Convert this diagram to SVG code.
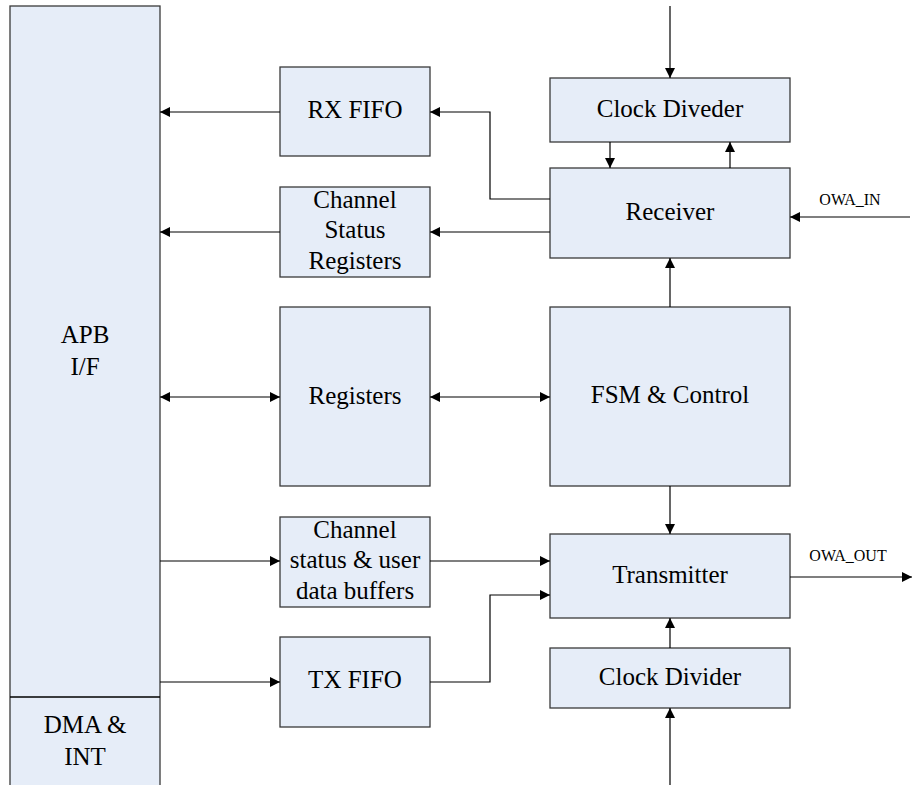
<svg xmlns="http://www.w3.org/2000/svg" width="912" height="785" viewBox="0 0 912 785">
<style>
.box{fill:#E6EDF8;stroke:#3a3a3a;stroke-width:1.3}
text{font-family:'Liberation Serif','Times New Roman',serif;fill:#000;text-anchor:middle}
.t{font-size:25px}
.s{font-size:16px}
.c{fill:none;stroke:#000;stroke-width:1.2}
</style>
<defs>
<marker id="a" viewBox="0 0 10 10" refX="10" refY="5" markerWidth="10" markerHeight="10" markerUnits="userSpaceOnUse" orient="auto-start-reverse">
<path d="M0,0 L10,5 L0,10 Z" fill="#000"/>
</marker>
</defs>
<g id="apb">
<rect class="box" x="10" y="6" width="150" height="800"/>
<line x1="10" y1="697" x2="160" y2="697" stroke="#000" stroke-width="1.3"/>
<text class="t" x="85" y="343">APB</text>
<text class="t" x="85" y="375">I/F</text>
<text class="t" x="85" y="733">DMA &amp;</text>
<text class="t" x="85" y="765">INT</text>
</g>
<g id="rxfifo">
<rect class="box" x="280" y="67" width="150" height="89"/>
<text class="t" x="355" y="118">RX FIFO</text>
</g>
<g id="chstatus">
<rect class="box" x="280" y="187" width="150" height="90"/>
<text class="t" x="355" y="208">Channel</text>
<text class="t" x="355" y="238">Status</text>
<text class="t" x="355" y="269">Registers</text>
</g>
<g id="registers">
<rect class="box" x="280" y="307" width="150" height="179"/>
<text class="t" x="355" y="404">Registers</text>
</g>
<g id="chbuffers">
<rect class="box" x="280" y="517" width="150" height="90"/>
<text class="t" x="355" y="538">Channel</text>
<text class="t" x="355" y="568">status &amp; user</text>
<text class="t" x="355" y="599">data buffers</text>
</g>
<g id="txfifo">
<rect class="box" x="280" y="637" width="150" height="90"/>
<text class="t" x="355" y="688">TX FIFO</text>
</g>
<g id="clkdiveder">
<rect class="box" x="550" y="78" width="240" height="64"/>
<text class="t" x="670" y="117">Clock Diveder</text>
</g>
<g id="receiver">
<rect class="box" x="550" y="168" width="240" height="90"/>
<text class="t" x="670" y="220">Receiver</text>
</g>
<g id="fsm">
<rect class="box" x="550" y="307" width="240" height="179"/>
<text class="t" x="670" y="403">FSM &amp; Control</text>
</g>
<g id="transmitter">
<rect class="box" x="550" y="534" width="240" height="84"/>
<text class="t" x="670" y="583">Transmitter</text>
</g>
<g id="clkdivider">
<rect class="box" x="550" y="648" width="240" height="60"/>
<text class="t" x="670" y="685">Clock Divider</text>
</g>
<g id="connectors">
<line class="c" x1="280" y1="112" x2="160" y2="112" marker-end="url(#a)"/>
<line class="c" x1="280" y1="232" x2="160" y2="232" marker-end="url(#a)"/>
<line class="c" x1="160" y1="397" x2="280" y2="397" marker-start="url(#a)" marker-end="url(#a)"/>
<line class="c" x1="430" y1="397" x2="550" y2="397" marker-start="url(#a)" marker-end="url(#a)"/>
<line class="c" x1="160" y1="561" x2="280" y2="561" marker-end="url(#a)"/>
<line class="c" x1="160" y1="682" x2="280" y2="682" marker-end="url(#a)"/>
<polyline class="c" points="550,199 490,199 490,112 430,112" marker-end="url(#a)"/>
<line class="c" x1="550" y1="232" x2="430" y2="232" marker-end="url(#a)"/>
<line class="c" x1="670" y1="6" x2="670" y2="78" marker-end="url(#a)"/>
<line class="c" x1="610" y1="142" x2="610" y2="168" marker-end="url(#a)"/>
<line class="c" x1="730" y1="168" x2="730" y2="142" marker-end="url(#a)"/>
<line class="c" x1="910" y1="217" x2="790" y2="217" marker-end="url(#a)"/>
<line class="c" x1="670" y1="307" x2="670" y2="258" marker-end="url(#a)"/>
<line class="c" x1="670" y1="486" x2="670" y2="534" marker-end="url(#a)"/>
<line class="c" x1="430" y1="561" x2="550" y2="561" marker-end="url(#a)"/>
<polyline class="c" points="430,682 490,682 490,595 550,595" marker-end="url(#a)"/>
<line class="c" x1="670" y1="648" x2="670" y2="618" marker-end="url(#a)"/>
<line class="c" x1="670" y1="785" x2="670" y2="708" marker-end="url(#a)"/>
<line class="c" x1="790" y1="577" x2="912" y2="577" marker-end="url(#a)"/>
</g>
<text class="s" x="850" y="205">OWA_IN</text>
<text class="s" x="848" y="561">OWA_OUT</text>
</svg>
